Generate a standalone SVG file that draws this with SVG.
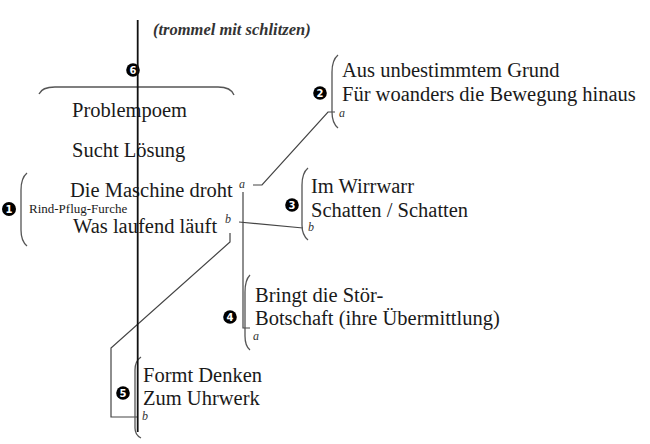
<svg xmlns="http://www.w3.org/2000/svg" width="650" height="444" viewBox="0 0 650 444">
<style>
.t{font-family:"Liberation Serif","Times New Roman",serif;font-size:20.5px;fill:#1a1a1a}
.s{font-family:"Liberation Serif","Times New Roman",serif;font-size:12px;font-style:italic;fill:#333}
.sm{font-family:"Liberation Serif","Times New Roman",serif;font-size:13px;fill:#1a1a1a}
.ti{font-family:"Liberation Serif","Times New Roman",serif;font-size:16.5px;font-style:italic;font-weight:bold;fill:#333}
.br{fill:none;stroke:#555;stroke-width:1.3}
.ln{fill:none;stroke:#444;stroke-width:1.2}
.bd circle{fill:#000}
.bd text{font-family:"DejaVu Sans",sans-serif;font-size:10px;font-weight:bold;fill:#fff;text-anchor:middle}
</style>
<rect width="650" height="444" fill="#fff"/>
<text class="ti" x="153" y="35">(trommel mit schlitzen)</text>
<g id="connectors">
<path class="ln" d="M253,185 L262,185 L328,112 L335,112"/>
<path class="ln" d="M243,192 L243,328 L250,328"/>
<path class="ln" d="M239,222 L303,228"/>
<path class="ln" d="M230,233 L230,242 L111,348 L111,417 L138,417"/>
</g>
<g id="node6">
<path class="br" d="M39,94 Q42,87 55,87 L218,87 Q231,87 234,95"/>
<g class="bd"><circle cx="133" cy="70" r="6.8"/><text x="133" y="73.6">6</text></g>
</g>
<g id="node-main">
<text class="t" x="72" y="117">Problempoem</text>
<text class="t" x="72" y="157">Sucht Lösung</text>
<text class="t" x="70" y="197">Die Maschine droht</text>
<text class="t" x="73" y="233">Was laufend läuft</text>
<text class="s" x="239" y="188">a</text>
<text class="s" x="225" y="223">b</text>
</g>
<g id="node1">
<path class="br" d="M27,173 Q21,178 21,190 L21,230 Q21,241 27,246"/>
<g class="bd"><circle cx="9" cy="209" r="7"/><text x="9" y="212.6">1</text></g>
<text class="sm" x="29" y="213">Rind-Pflug-Furche</text>
</g>
<g id="node2">
<path class="br" d="M338,55 Q332,60 332,72 L332,112 Q332,123 338,128"/>
<g class="bd"><circle cx="320" cy="93" r="6.8"/><text x="320" y="96.6">2</text></g>
<text class="t" x="342" y="77">Aus unbestimmtem Grund</text>
<text class="t" x="342" y="101">Für woanders die Bewegung hinaus</text>
<text class="s" x="339" y="117">a</text>
</g>
<g id="node3">
<path class="br" d="M308,168 Q302,173 302,185 L302,225 Q302,235 308,240"/>
<g class="bd"><circle cx="292" cy="205" r="6.8"/><text x="292" y="208.6">3</text></g>
<text class="t" x="311" y="193">Im Wirrwarr</text>
<text class="t" x="311" y="217">Schatten / Schatten</text>
<text class="s" x="308" y="231">b</text>
</g>
<g id="node4">
<path class="br" d="M250,275 Q245,280 245,292 L245,336 Q245,346 250,350"/>
<g class="bd"><circle cx="230" cy="317" r="6.8"/><text x="230" y="320.6">4</text></g>
<text class="t" x="255" y="302">Bringt die Stör-</text>
<text class="t" x="255" y="325">Botschaft (ihre Übermittlung)</text>
<text class="s" x="253" y="340">a</text>
</g>
<g id="node5">
<path class="br" d="M141,357 Q135,361 135,370 L135,428 Q135,435 141,438"/>
<g class="bd"><circle cx="123" cy="393" r="6.8"/><text x="123" y="396.6">5</text></g>
<text class="t" x="143" y="382">Formt Denken</text>
<text class="t" x="143" y="405">Zum Uhrwerk</text>
<text class="s" x="142" y="420">b</text>
</g>
<g id="axis">
<path d="M137.7,20 L137.7,432" stroke="#111" stroke-width="1.8" fill="none"/>
</g>
</svg>
